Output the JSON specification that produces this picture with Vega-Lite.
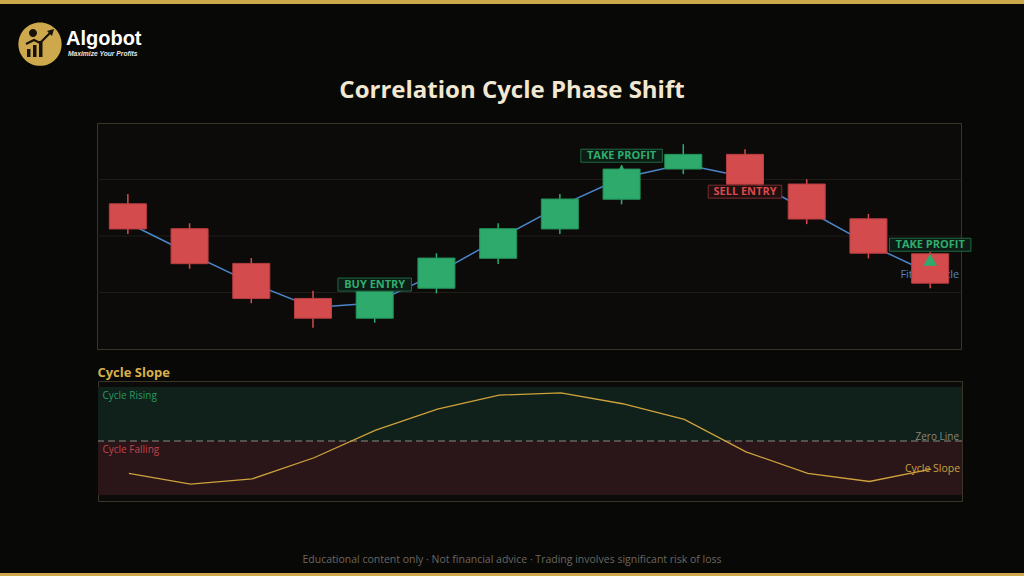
{
  "$schema": "https://vega.github.io/schema/vega-lite/v6.json",
  "background": "#080807",
  "padding": 0,
  "spacing": 0,
  "config": {"view": {"stroke": null}, "font": "Open Sans"},
  "datasets": {
    "candles": [
      {"i": 1, "open": 101.14, "high": 101.49, "low": 100.07, "close": 100.25, "fit": 100.46, "slope": -0.6},
      {"i": 2, "open": 100.26, "high": 100.45, "low": 98.84, "close": 99.02, "fit": 99.38, "slope": -0.8},
      {"i": 3, "open": 99.03, "high": 99.22, "low": 97.62, "close": 97.79, "fit": 98.34, "slope": -0.7},
      {"i": 4, "open": 97.79, "high": 98.06, "low": 96.75, "close": 97.09, "fit": 97.47, "slope": -0.31},
      {"i": 5, "open": 97.09, "high": 98.19, "low": 96.93, "close": 98.05, "fit": 97.63, "slope": 0.2},
      {"i": 6, "open": 98.15, "high": 99.39, "low": 97.97, "close": 99.22, "fit": 98.67, "slope": 0.59},
      {"i": 7, "open": 99.21, "high": 100.45, "low": 99.01, "close": 100.26, "fit": 99.89, "slope": 0.85},
      {"i": 8, "open": 100.25, "high": 101.49, "low": 100.07, "close": 101.31, "fit": 101.06, "slope": 0.89},
      {"i": 9, "open": 101.3, "high": 102.51, "low": 101.12, "close": 102.37, "fit": 102.05, "slope": 0.69},
      {"i": 10, "open": 102.37, "high": 103.25, "low": 102.19, "close": 102.89, "fit": 102.54, "slope": 0.4},
      {"i": 11, "open": 102.89, "high": 103.07, "low": 101.66, "close": 101.83, "fit": 102.09, "slope": -0.2},
      {"i": 12, "open": 101.84, "high": 102.01, "low": 100.42, "close": 100.6, "fit": 100.92, "slope": -0.6},
      {"i": 13, "open": 100.61, "high": 100.78, "low": 99.21, "close": 99.39, "fit": 99.71, "slope": -0.75},
      {"i": 14, "open": 99.37, "high": 99.44, "low": 98.15, "close": 98.33, "fit": 98.68, "slope": -0.52}
    ],
    "signals": [
      {"i": 5, "signal": "buy", "label": "BUY ENTRY", "price": 97.75},
      {"i": 9, "signal": "tp", "label": "TAKE PROFIT", "price": 102.31},
      {"i": 11, "signal": "sell", "label": "SELL ENTRY", "price": 102.1},
      {"i": 14, "signal": "tp", "label": "TAKE PROFIT", "price": 99.16}
    ],
    "grid": [{"g": 98}, {"g": 100}, {"g": 102}],
    "zones": [
      {"zone": "Cycle Rising", "hi": 1, "lo": 0},
      {"zone": "Cycle Falling", "hi": 0, "lo": -1}
    ]
  },
  "vconcat": [
    {
      "width": 1024,
      "height": 4,
      "data": {"values": [{}]},
      "view": {"stroke": null},
      "mark": {"type": "rect", "color": "#cda84c"},
      "encoding": {}
    },
    {
      "width": 1024,
      "height": 118,
      "data": {"values": [{}]},
      "view": {"stroke": null},
      "layer": [
        {
          "mark": {
            "type": "point",
            "shape": "M-493.6,-18.8A21.6 21.6 0 1 0 -450.4,-18.8A21.6 21.6 0 1 0 -493.6,-18.8Z",
            "size": 4,
            "filled": true,
            "opacity": 1,
            "color": "#cda84c"
          },
          "encoding": {}
        },
        {
          "mark": {
            "type": "point",
            "shape": "M-485,-14H-481.5V-6H-485Z M-479,-18H-475.5V-6H-479Z M-473,-22H-469.5V-6H-473Z M-458,-34L-465,-32L-460,-27Z M-479,-34A4 4 0 1 0 -479,-26A4 4 0 1 0 -479,-34Z",
            "size": 4,
            "filled": true,
            "opacity": 1,
            "color": "#17120a"
          },
          "encoding": {}
        },
        {
          "mark": {
            "type": "point",
            "shape": "M-486,-19L-478,-23L-472,-20L-462,-30",
            "size": 4,
            "filled": false,
            "opacity": 1,
            "strokeWidth": 2.2,
            "color": "#17120a"
          },
          "encoding": {}
        },
        {
          "mark": {
            "type": "text",
            "text": "Algobot",
            "font": "Liberation Sans",
            "fontWeight": "bold",
            "fontSize": 20,
            "color": "#ffffff",
            "align": "left",
            "baseline": "alphabetic",
            "dx": -446,
            "dy": -18
          },
          "encoding": {}
        },
        {
          "mark": {
            "type": "text",
            "text": "Maximize Your Profits",
            "font": "Liberation Sans",
            "fontWeight": "bold",
            "fontStyle": "italic",
            "fontSize": 6.7,
            "color": "#e6e6e6",
            "align": "left",
            "baseline": "alphabetic",
            "dx": -444,
            "dy": -7.5
          },
          "encoding": {}
        },
        {
          "mark": {
            "type": "text",
            "text": "Correlation Cycle Phase Shift",
            "fontWeight": "bold",
            "fontSize": 24,
            "color": "#f2e8d2",
            "align": "center",
            "baseline": "alphabetic",
            "dy": 34.7
          },
          "encoding": {}
        }
      ]
    },
    {
      "spacing": 0,
      "hconcat": [
        {
          "width": 96,
          "height": 243,
          "data": {"values": []},
          "view": {"stroke": null},
          "mark": "rect",
          "encoding": {}
        },
        {
          "width": 864,
          "height": 226,
          "view": {"fill": "#0c0b0a", "stroke": "#3b3526", "strokeWidth": 1},
          "layer": [
            {
              "data": {"name": "grid"},
              "mark": {"type": "rule", "color": "#1f1d18", "strokeWidth": 1},
              "encoding": {
                "y": {"field": "g", "type": "quantitative", "axis": null,
                      "scale": {"domain": [96, 104], "nice": false, "zero": false}}
              }
            },
            {
              "data": {"name": "candles"},
              "mark": {"type": "line", "color": "#4a86c8", "strokeWidth": 1.5},
              "encoding": {
                "x": {"field": "i", "type": "ordinal", "axis": null,
                      "scale": {"type": "band", "paddingInner": 0, "paddingOuter": 0}},
                "y": {"field": "fit", "type": "quantitative"}
              }
            },
            {
              "data": {"name": "candles"},
              "transform": [{"filter": "datum.i == 14"}],
              "mark": {"type": "text", "text": "Fitted Cycle", "color": "#4a86c8", "fontSize": 11,
                       "align": "right", "baseline": "middle", "dx": 29, "dy": 2},
              "encoding": {
                "x": {"field": "i", "type": "ordinal"},
                "y": {"field": "fit", "type": "quantitative"}
              }
            },
            {
              "data": {"name": "candles"},
              "mark": {"type": "rule", "strokeWidth": 1.5},
              "encoding": {
                "x": {"field": "i", "type": "ordinal"},
                "y": {"field": "low", "type": "quantitative"},
                "y2": {"field": "high"},
                "color": {"condition": {"test": "datum.close >= datum.open", "value": "#2daa6c"}, "value": "#d44b4e"}
              }
            },
            {
              "data": {"name": "candles"},
              "mark": {"type": "bar", "width": {"band": 0.6}, "strokeWidth": 1},
              "encoding": {
                "x": {"field": "i", "type": "ordinal"},
                "y": {"field": "open", "type": "quantitative"},
                "y2": {"field": "close"},
                "fill": {"condition": {"test": "datum.close >= datum.open", "value": "#2daa6c"}, "value": "#d44b4e"},
                "stroke": {"condition": {"test": "datum.close >= datum.open", "value": "#23915a"}, "value": "#b83e41"}
              }
            },
            {
              "data": {"name": "signals"},
              "mark": {"type": "point", "filled": true, "opacity": 1, "size": 190},
              "encoding": {
                "x": {"field": "i", "type": "ordinal"},
                "y": {"field": "price", "type": "quantitative"},
                "shape": {"condition": {"test": "datum.signal == 'sell'", "value": "triangle-down"}, "value": "triangle-up"},
                "color": {"condition": {"test": "datum.signal == 'sell'", "value": "#d44b4e"}, "value": "#2daa6c"}
              }
            },
            {
              "data": {"name": "signals"},
              "mark": {"type": "point", "filled": true, "opacity": 1, "size": 4, "strokeWidth": 1},
              "encoding": {
                "x": {"field": "i", "type": "ordinal"},
                "y": {"field": "price", "type": "quantitative"},
                "shape": {
                  "condition": [
                    {"test": "datum.signal == 'sell'", "value": "M-36.75,8.5H36.75V21.5H-36.75Z"},
                    {"test": "datum.signal == 'tp'", "value": "M-40.75,-21.5H40.75V-8.5H-40.75Z"}
                  ],
                  "value": "M-36.75,-21.5H36.75V-8.5H-36.75Z"
                },
                "fill": {"condition": {"test": "datum.signal == 'sell'", "value": "#1f0f0f"}, "value": "#0d1c14"},
                "stroke": {"condition": {"test": "datum.signal == 'sell'", "value": "#7a2c2e"}, "value": "#1f6b45"}
              }
            },
            {
              "data": {"name": "signals"},
              "transform": [{"filter": "datum.signal != 'sell'"}],
              "mark": {"type": "text", "fontWeight": "bold", "fontSize": 11, "baseline": "middle", "dy": -15, "color": "#2fae6f"},
              "encoding": {
                "x": {"field": "i", "type": "ordinal"},
                "y": {"field": "price", "type": "quantitative"},
                "text": {"field": "label"}
              }
            },
            {
              "data": {"name": "signals"},
              "transform": [{"filter": "datum.signal == 'sell'"}],
              "mark": {"type": "text", "fontWeight": "bold", "fontSize": 11, "baseline": "middle", "dy": 15, "color": "#d9494d"},
              "encoding": {
                "x": {"field": "i", "type": "ordinal"},
                "y": {"field": "price", "type": "quantitative"},
                "text": {"field": "label"}
              }
            }
          ]
        }
      ]
    },
    {
      "spacing": 0,
      "hconcat": [
        {
          "width": 96,
          "height": 120,
          "data": {"values": []},
          "view": {"stroke": null},
          "mark": "rect",
          "encoding": {}
        },
        {
          "width": 864,
          "height": 120,
          "title": {"text": "Cycle Slope", "anchor": "start", "color": "#d9b04a", "fontSize": 13,
                    "fontWeight": "bold", "font": "Open Sans", "offset": 1},
          "view": {"fill": "#0b0b09", "stroke": "#3b3526", "strokeWidth": 1},
          "layer": [
            {
              "data": {"name": "zones"},
              "mark": {"type": "rect"},
              "encoding": {
                "y": {"field": "hi", "type": "quantitative", "axis": null,
                      "scale": {"domain": [-1.111, 1.111], "nice": false, "zero": false}},
                "y2": {"field": "lo"},
                "fill": {"condition": {"test": "datum.hi > 0", "value": "#10201a"}, "value": "#2a1618"}
              }
            },
            {
              "data": {"name": "zones"},
              "mark": {"type": "text", "fontSize": 10, "align": "left", "baseline": "top", "dx": 4.5, "dy": 4},
              "encoding": {
                "x": {"datum": 1, "type": "ordinal", "bandPosition": 0,
                      "scale": {"type": "band", "paddingInner": 0, "paddingOuter": 0}, "axis": null},
                "y": {"field": "hi", "type": "quantitative"},
                "text": {"field": "zone"},
                "color": {"condition": {"test": "datum.hi > 0", "value": "#2a9a62"}, "value": "#c4434a"}
              }
            },
            {
              "data": {"values": [{}]},
              "mark": {"type": "rule", "color": "#8e887e", "strokeWidth": 1.2, "strokeDash": [7, 4]},
              "encoding": {"y": {"datum": 0, "type": "quantitative"}}
            },
            {
              "data": {"values": [{}]},
              "mark": {"type": "text", "text": "Zero Line", "color": "#8a857c", "fontSize": 10,
                       "align": "right", "baseline": "bottom", "dx": -3, "dy": 1},
              "encoding": {
                "x": {"datum": 14, "type": "ordinal", "bandPosition": 1},
                "y": {"datum": 0, "type": "quantitative"}
              }
            },
            {
              "data": {"name": "candles"},
              "mark": {"type": "line", "color": "#cfa23c", "strokeWidth": 1.3},
              "encoding": {
                "x": {"field": "i", "type": "ordinal"},
                "y": {"field": "slope", "type": "quantitative"}
              }
            },
            {
              "data": {"name": "candles"},
              "transform": [{"filter": "datum.i == 14"}],
              "mark": {"type": "text", "text": "Cycle Slope", "color": "#c9a040", "fontSize": 10.5,
                       "align": "right", "baseline": "middle", "dx": 29},
              "encoding": {
                "x": {"field": "i", "type": "ordinal"},
                "y": {"field": "slope", "type": "quantitative"}
              }
            }
          ]
        }
      ]
    },
    {
      "width": 1024,
      "height": 71,
      "data": {"values": [{}]},
      "view": {"stroke": null},
      "mark": {
        "type": "text",
        "text": "Educational content only · Not financial advice · Trading involves significant risk of loss",
        "color": "#6b6760",
        "fontSize": 10.5,
        "baseline": "middle",
        "dy": 22.5
      },
      "encoding": {}
    },
    {
      "width": 1024,
      "height": 4,
      "data": {"values": [{}]},
      "view": {"stroke": null},
      "mark": {"type": "rect", "color": "#cda84c"},
      "encoding": {}
    }
  ]
}
